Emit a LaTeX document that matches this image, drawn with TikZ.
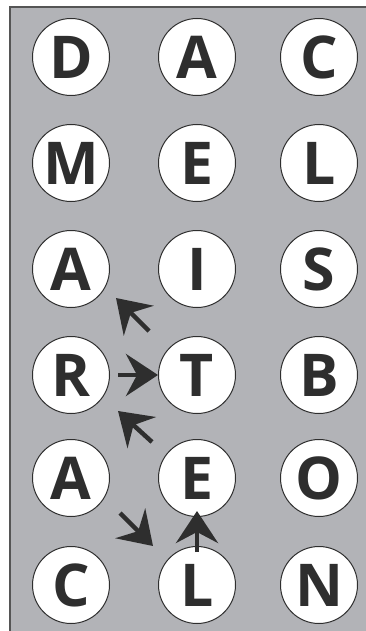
\documentclass[tikz,border=0pt]{standalone}
\usepackage{fontspec}
\setmainfont{Open Sans}
\usepackage{tikz}
\usetikzlibrary{arrows.meta,calc}
\definecolor{PanelGray}{HTML}{B2B3B7}
\definecolor{InkDark}{HTML}{2E2E2E}
\definecolor{EdgeGray}{HTML}{555555}

\tikzset{
  letterdisc/.style={circle, draw=InkDark, line width=1pt, fill=white,
    minimum size=77pt, inner sep=0pt, text=InkDark,
    font=\fontsize{59}{59}\selectfont\bfseries},
  moveto/.style={draw=InkDark, line width=4.5pt,
    -{Stealth[length=32pt 0 0, width=42pt 0 0, inset=11pt 0 0]}}
}

\begin{document}
\begin{tikzpicture}[x=1pt, y=-1pt]
  \useasboundingbox (0,0) rectangle (366,631);
  \draw[EdgeGray, line width=1.5pt, fill=PanelGray] (10,7) rectangle (372,640);

  % letter grid
  \node[letterdisc] (D1) at (71,57)  {D};
  \node[letterdisc] (A1) at (197,57) {A};
  \node[letterdisc] (C1) at (319,57) {C};

  \node[letterdisc] (M2) at (71,163)  {M};
  \node[letterdisc] (E2) at (197,163) {E};
  \node[letterdisc] (L2) at (319,163) {L};

  \node[letterdisc] (A3) at (71,269)  {A};
  \node[letterdisc] (I3) at (197,269) {I};
  \node[letterdisc] (S3) at (319,269) {S};

  \node[letterdisc] (R4) at (71,375)  {R};
  \node[letterdisc] (T4) at (197,375) {T};
  \node[letterdisc] (B4) at (319,375) {B};

  \node[letterdisc] (A5) at (71,478)  {A};
  \node[letterdisc] (E5) at (197,478) {E};
  \node[letterdisc] (O5) at (319,478) {O};

  \node[letterdisc] (C6) at (71,585)  {C};
  \node[letterdisc] (L6) at (197,585) {L};
  \node[letterdisc] (N6) at (319,585) {N};

  % moves
  \coordinate (upA) at (149,331);
  \coordinate (upAtip) at (116,298);
  \coordinate (upT) at (152,442);
  \coordinate (upTtip) at (118,411);
  \coordinate (dnC) at (120,513);
  \coordinate (dnCtip) at (153,546);

  \draw[moveto] (upA) -- (upAtip);
  \draw[moveto, shorten <=8pt] (R4.east) -- (T4.west);
  \draw[moveto] (upT) -- (upTtip);
  \draw[moveto] (dnC) -- (dnCtip);
  \draw[moveto] ([yshift=-6pt]L6.north) -- ([yshift=6pt]E5.south);
\end{tikzpicture}
\end{document}
